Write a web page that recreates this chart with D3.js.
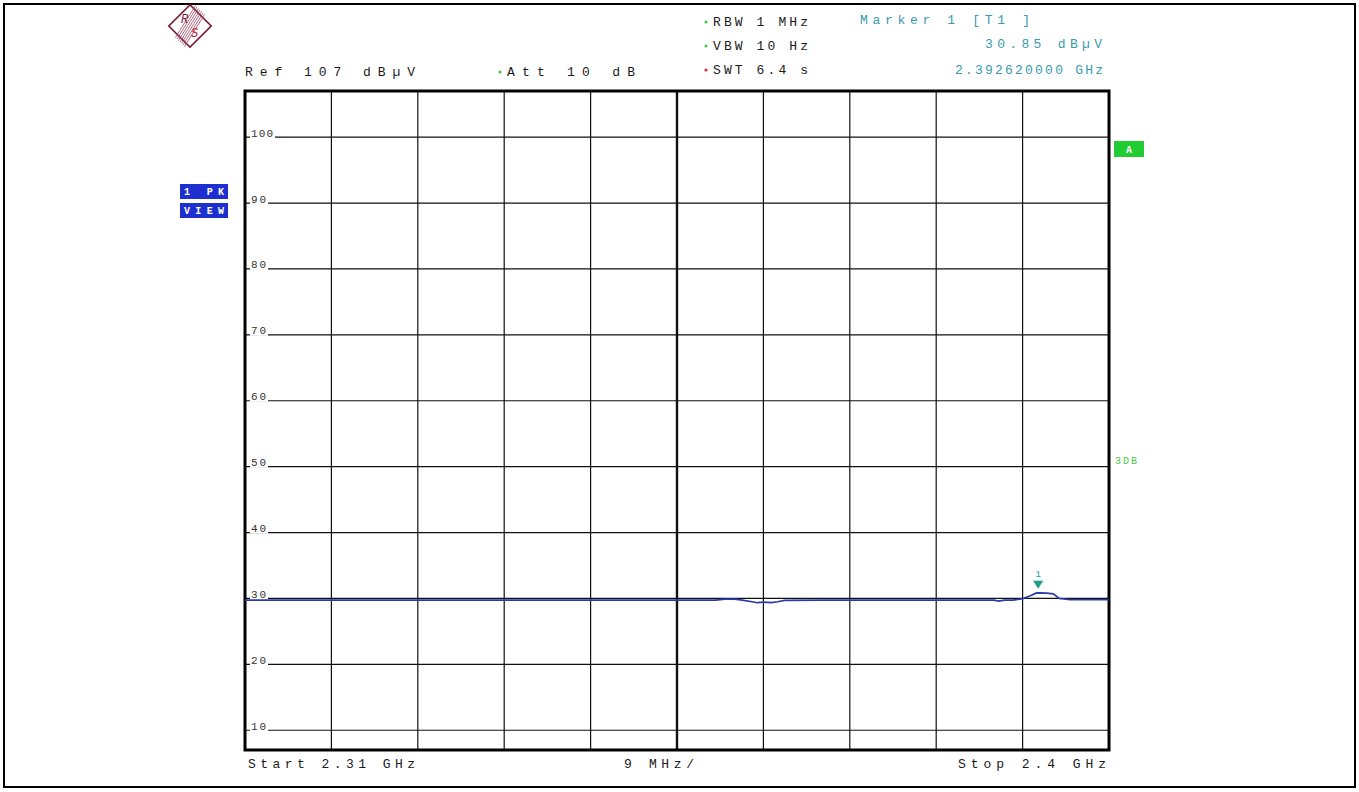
<!DOCTYPE html>
<html><head><meta charset="utf-8">
<script src="https://cdn.jsdelivr.net/npm/d3@7"></script>
<style>body{margin:0;background:#fff}svg{display:block}text{font-family:"Liberation Mono","DejaVu Sans Mono",monospace}</style>
</head><body>
<svg id="c" width="1359" height="792"></svg>
<script>
// Data
const traceFreqGHz = [2.310,2.320,2.330,2.340,2.350,2.3590,2.3600,2.3610,2.3618,2.3628,2.3634,2.3640,2.3648,2.3655,2.3662,2.3700,2.3800,2.3880,2.3885,2.3891,2.3900,2.3910,2.3918,2.3924,2.39262,2.3935,2.3942,2.3948,2.3960,2.3980,2.400];
const traceLevel   = [29.75,29.75,29.75,29.75,29.75,29.75,29.9,29.9,29.75,29.5,29.35,29.45,29.35,29.5,29.7,29.75,29.75,29.75,29.6,29.75,29.75,29.95,30.4,30.8,30.85,30.8,30.7,30.0,29.8,29.8,29.8];
const yTickValues = [100,90,80,70,60,50,40,30,20,10];
const xGridCount = 10;
const startGHz = 2.31, stopGHz = 2.4, refLevel = 107, rangeDb = 100;
const marker = {freq:2.39262, level:30.85, label:"1"};
const headerLeft = ["Ref  107 dB\u00b5V", "Att  10 dB"];
const headerMid = ["RBW 1 MHz","VBW 10 Hz","SWT 6.4 s"];
const markerInfo = ["Marker 1 [T1 ]","30.85 dB\u00b5V","2.392620000 GHz"];
const footer = ["Start 2.31 GHz","9 MHz/","Stop 2.4 GHz"];

const svg = d3.select("#c");
const L=245,R=1109,T=91,B=750;
const x = d3.scaleLinear().domain([startGHz,stopGHz]).range([L,R]);
const y = d3.scaleLinear().domain([refLevel-rangeDb,refLevel]).range([B,T]);

// outer border
svg.append("rect").attr("x",4).attr("y",4).attr("width",1351).attr("height",783)
  .attr("fill","none").attr("stroke","#000").attr("stroke-width",2);

// logo
const lg = svg.append("g").attr("transform","translate(190,26)");
lg.append("rect").attr("x",-15).attr("y",-15).attr("width",30).attr("height",30)
  .attr("transform","rotate(45)").attr("fill","#fff").attr("stroke","#7a1838").attr("stroke-width",1.6);
for(let i=-3;i<=3;i++){
  lg.append("line").attr("x1",-13+i*1.5+3).attr("y1",13+i*1.5+3).attr("x2",13+i*1.5-3).attr("y2",-13+i*1.5-3)
    .attr("stroke","#a04060").attr("stroke-width",0.8);
}
lg.append("text").attr("x",-9).attr("y",-3).attr("font-size",12).attr("fill","#7a1838").attr("font-style","italic").text("R");
lg.append("text").attr("x",1).attr("y",11).attr("font-size",12).attr("fill","#c02030").attr("font-style","italic").text("S");

// gridlines
const xg = d3.range(xGridCount+1).map(i=>startGHz+i*(stopGHz-startGHz)/xGridCount);
svg.append("g").selectAll("line").data(xg).join("line")
  .attr("x1",d=>x(d)).attr("x2",d=>x(d)).attr("y1",T).attr("y2",B)
  .attr("stroke","#111").attr("stroke-width",(d,i)=>i===5?2.4:1.2);
svg.append("g").selectAll("line").data(yTickValues).join("line")
  .attr("x1",L).attr("x2",R).attr("y1",d=>y(d)).attr("y2",d=>y(d))
  .attr("stroke","#111").attr("stroke-width",1.2);

// y labels
const yl = svg.append("g");
yTickValues.forEach(v=>{
  const s=String(v);
  const w = s.length*7+1;
  yl.append("rect").attr("x",L+5).attr("y",y(v)-9).attr("width",w+3).attr("height",10).attr("fill","#fff");
  yl.append("text").attr("x",L+6).attr("y",y(v)-0.5).attr("font-size",11).attr("fill","#333")
    .attr("textLength",w).attr("lengthAdjust","spacing").text(s);
});

// frame
svg.append("rect").attr("x",L).attr("y",T).attr("width",R-L).attr("height",B-T)
  .attr("fill","none").attr("stroke","#000").attr("stroke-width",3);

// trace
const line = d3.line().x((d,i)=>x(traceFreqGHz[i])).y(d=>y(d));
svg.append("path").datum(traceLevel).attr("d",line).attr("fill","none")
  .attr("stroke","#2a3aa8").attr("stroke-width",1.7);

// marker
const mx=x(marker.freq), my=y(marker.level);
svg.append("path").attr("d",`M${mx-5},${my-12}L${mx+5},${my-12}L${mx},${my-4}Z`).attr("fill","#1aa08a");
svg.append("text").attr("x",mx).attr("y",my-16).attr("text-anchor","middle").attr("font-size",9).attr("fill","#1aa0a0").text(marker.label);

// header texts
function t(txt,xx,yy,w,col,anchor){
  const e = svg.append("text").attr("x",xx).attr("y",yy).attr("font-size",13).attr("fill",col||"#222")
    .attr("text-anchor",anchor||"start").text(txt);
  if(w) e.attr("textLength",w).attr("lengthAdjust","spacing");
  return e;
}
t(headerLeft[0],245,76,170,"#1a1a1a");
t(headerLeft[1],507,76,128,"#1a1a1a");
svg.append("circle").attr("cx",500).attr("cy",72).attr("r",1.5).attr("fill","#3c3");
t(headerMid[0],713,26,95,"#1a1a1a");
t(headerMid[1],713,50,95,"#1a1a1a");
t(headerMid[2],713,74,95,"#1a1a1a");
svg.append("circle").attr("cx",706).attr("cy",22).attr("r",1.5).attr("fill","#3c3");
svg.append("circle").attr("cx",706).attr("cy",46).attr("r",1.5).attr("fill","#3c3");
svg.append("circle").attr("cx",706).attr("cy",70).attr("r",1.6).attr("fill","#d33");
t(markerInfo[0],860,24,170,"#3a9ab0");
t(markerInfo[1],985,48,117,"#3a9ab0");
t(markerInfo[2],955,74,148,"#3a9ab0");

// footer
t(footer[0],248,768,167,"#1a1a1a");
t(footer[1],624,768,70,"#1a1a1a");
t(footer[2],958,768,148,"#1a1a1a");

// side boxes
function box(xx,yy,w,h,fill,txt){
  svg.append("rect").attr("x",xx).attr("y",yy).attr("width",w).attr("height",h).attr("fill",fill);
  svg.append("text").attr("x",xx+4).attr("y",yy+h-4).attr("font-size",10)
    .attr("font-weight","bold").attr("fill","#fff").attr("textLength",w-8).attr("lengthAdjust","spacing").text(txt);
}
box(180,184,48,15,"#1e2fd0","1 PK");
box(180,203,48,15,"#1e2fd0","VIEW");
svg.append("rect").attr("x",1114).attr("y",141).attr("width",30).attr("height",16).attr("fill","#22cc33");
svg.append("text").attr("x",1129).attr("y",153).attr("text-anchor","middle").attr("font-size",10)
  .attr("font-weight","bold").attr("fill","#fff").text("A");
svg.append("text").attr("x",1115).attr("y",464).attr("font-size",10)
  .attr("fill","#44cc44").attr("textLength",22).attr("lengthAdjust","spacing").text("3DB");
</script>
</body></html>
